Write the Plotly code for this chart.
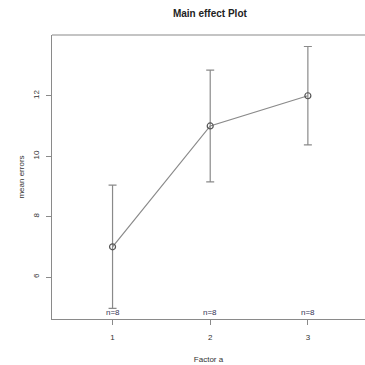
import plotly.graph_objects as go

levels = [1, 2, 3]
means = [7, 11, 12]
half_width = [2.04, 1.85, 1.63]
n_labels = ["n=8", "n=8", "n=8"]
y_ticks = [6, 8, 10, 12]
x_ticks = [1, 2, 3]

fig = go.Figure()
fig.add_trace(go.Scatter(
    x=levels, y=means, mode="lines+markers",
    line=dict(color="#8a8a8a", width=1.2),
    marker=dict(symbol="circle-open", size=6, color="#555555", line=dict(width=1.2)),
    error_y=dict(type="data", array=half_width, visible=True, color="#8a8a8a",
                 thickness=1.2, width=4),
    showlegend=False, hoverinfo="skip",
))

for xv, t in zip(levels, n_labels):
    fig.add_annotation(x=xv, y=0, xref="x", yref="paper", text=t, showarrow=False,
                       yanchor="bottom", yshift=0,
                       font=dict(size=8, color="#333355", family="Liberation Sans"))

# top border line
fig.add_shape(type="line", xref="paper", yref="paper", x0=0, x1=1, y0=1, y1=1,
              line=dict(color="#8a8a8a", width=1.2))

fig.update_layout(
    width=365, height=365,
    margin=dict(l=52, r=0, t=35, b=46),
    paper_bgcolor="white", plot_bgcolor="white",
    font=dict(family="Liberation Sans", color="#333333", size=8),
    title=dict(text="<b>Main effect Plot</b>", x=0.575, xanchor="center", y=0.964,
               yanchor="middle", font=dict(size=10, color="#222222")),
)
fig.update_xaxes(
    range=[0.38, 3.585], tickvals=x_ticks, ticktext=[str(v) for v in x_ticks],
    showgrid=False, zeroline=False, showline=True, linecolor="#8a8a8a", linewidth=1.2,
    ticks="outside", ticklen=5, tickcolor="#8a8a8a", ticklabelstandoff=5,
    title=dict(text="Factor a", standoff=15, font=dict(size=8)),
)
fig.update_yaxes(
    range=[4.61, 14.01], tickvals=y_ticks, ticktext=[str(v) for v in y_ticks],
    tickangle=-90,
    showgrid=False, zeroline=False, showline=True, linecolor="#8a8a8a", linewidth=1.2,
    ticks="outside", ticklen=5, tickcolor="#8a8a8a", ticklabelstandoff=4,
    title=dict(text="mean errors", standoff=5, font=dict(size=8)),
)

fig.write_html(
    "out.html",
    config={"displayModeBar": False},
    post_script="document.body.style.margin='0px';document.body.style.overflow='hidden';",
)
